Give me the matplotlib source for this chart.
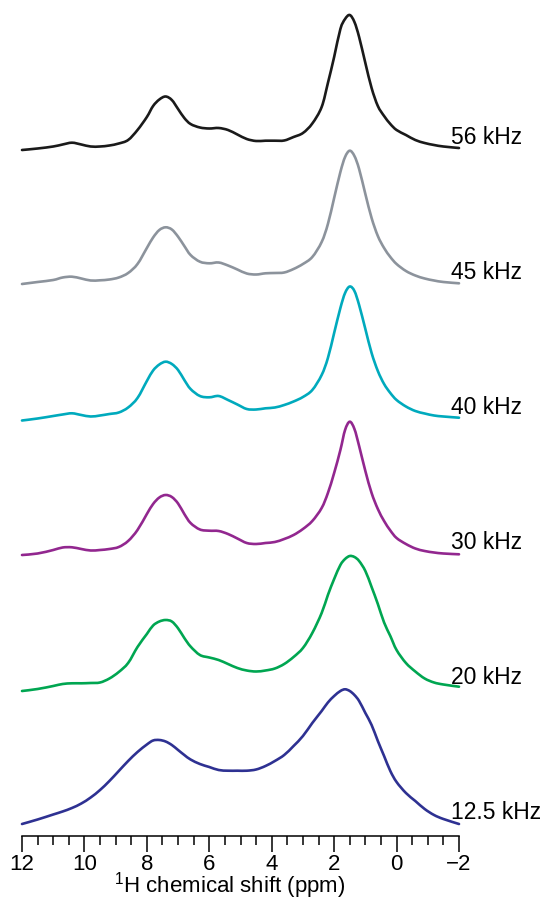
import numpy as np
import matplotlib
matplotlib.use('Agg')
import matplotlib.pyplot as plt
from matplotlib.path import Path
from matplotlib.patches import PathPatch
from matplotlib.ticker import MultipleLocator

plt.rcParams['font.family'] = ['Liberation Sans', 'DejaVu Sans']
plt.rcParams['mathtext.default'] = 'regular'

# chemical shift grid (ppm) shared by all traces
ppm = [12.0, 11.5, 11.0, 10.7, 10.4, 10.1, 9.8, 9.5, 9.2, 8.9, 8.6, 8.3,
       8.0, 7.8, 7.6, 7.4, 7.2, 7.0, 6.8, 6.6, 6.3, 6.0, 5.7, 5.4, 5.1,
       4.8, 4.5, 4.2, 3.9, 3.6, 3.3, 3.0, 2.7, 2.4, 2.2, 2.0, 1.8, 1.65,
       1.5, 1.35, 1.2, 1.0, 0.8, 0.6, 0.4, 0.2, 0.0, -0.3, -0.6, -0.9,
       -1.2, -1.5, -2.0]

# intensities (arb. units) for each MAS rate
h_12_5 = [2, 6.5, 11.5, 14.5, 18, 22.5, 28.5, 36, 45, 55, 65, 74,
          81.5, 85.5, 86, 84.5, 81, 76, 71, 66.5, 62, 59, 56, 55.3, 55.3,
          55.3, 56.5, 60, 65, 71, 80, 90, 103, 115, 123.5, 130, 135, 136.7,
          135, 131, 125, 113, 101, 85, 70, 55, 44, 33, 25, 17,
          11, 7, 2]
h_20 = [0, 2, 5, 7, 7.7, 7.7, 8, 8.5, 12.5, 19, 28, 44,
        57, 65.5, 69.5, 71, 69.5, 62.7, 53, 44.5, 36, 33.5, 31, 27, 23,
        20.5, 19.5, 20.5, 22.5, 27, 34, 43, 58, 78, 96, 112, 126, 132,
        135, 134, 130, 120, 104, 87, 68.5, 55, 41, 28, 19.5, 12.5,
        8.5, 6.5, 4.3]
h_30 = [1, 2.5, 6, 8.5, 8.7, 7, 5.5, 6, 7, 9, 15, 26,
        42, 52, 58.5, 61, 59, 52.5, 42, 33, 26.5, 25.3, 25, 22, 17.5,
        13, 12, 13, 14, 17, 21, 27, 35, 48, 63, 83, 106, 126,
        134.3, 127, 110, 85, 63, 47, 35, 25.5, 18, 12, 7.5, 5,
        3.5, 2.5, 1.7]
h_40 = [0.5, 2.5, 5, 6.5, 7.7, 6, 4.5, 5.5, 7, 8.5, 13.5, 23,
        40, 50.5, 56.5, 59.3, 57, 51, 41, 32, 25, 23.7, 25, 21, 16.5,
        12, 11.5, 12.7, 13.5, 16, 19.5, 24, 31, 46, 63, 88, 113, 128,
        134.5, 130, 116, 92, 68, 50, 37, 28, 21, 14.5, 10, 7.5,
        5.5, 4.5, 3.3]
h_45 = [2, 4, 6, 8.5, 9.3, 7.5, 5.5, 5.7, 6.5, 8.5, 13, 22,
        38, 48.5, 56, 58.7, 56.5, 49.3, 40, 31, 24.3, 22.7, 23.5, 20.5, 16.5,
        12.5, 11.5, 12.7, 13, 13.5, 17, 22, 29, 44, 62, 88, 114, 129,
        135.3, 130, 117, 92, 68, 50, 38, 29, 22, 15, 10.5, 7.5,
        5.5, 4, 2.7]
h_56 = [1, 2.5, 4.5, 6.5, 8.3, 6.5, 4.5, 4.5, 5.5, 7.5, 11, 21,
        34, 45, 51.5, 54.5, 51, 42, 33, 27, 23.5, 22.5, 23, 21, 16.5,
        12, 10, 10.3, 10.3, 10.5, 14, 18, 27.5, 44, 68, 94, 122, 132,
        136, 129, 114, 88, 63, 45, 35, 27, 21, 16, 11, 8,
        6, 4.5, 3]

spectra = [h_12_5, h_20, h_30, h_40, h_45, h_56]
labels = ['12.5 kHz', '20 kHz', '30 kHz', '40 kHz', '45 kHz', '56 kHz']
colors = ['#2e3192', '#00a651', '#92278f', '#00aabd', '#8c939c', '#1a1a1a']
spacing = 135


def smooth_path(x, y):
    # Catmull-Rom through the points, written as cubic Bezier segments
    x = np.asarray(x, float)
    y = np.asarray(y, float)
    px = np.concatenate([[x[0]], x, [x[-1]]])
    py = np.concatenate([[y[0]], y, [y[-1]]])
    verts = [(x[0], y[0])]
    codes = [Path.MOVETO]
    for k in range(1, len(px) - 2):
        c1 = (px[k] + (px[k + 1] - px[k - 1]) / 6, py[k] + (py[k + 1] - py[k - 1]) / 6)
        c2 = (px[k + 1] - (px[k + 2] - px[k]) / 6, py[k + 1] - (py[k + 2] - py[k]) / 6)
        verts += [c1, c2, (px[k + 1], py[k + 1])]
        codes += [Path.CURVE4] * 3
    return Path(verts, codes)


W, H = 547, 902
fig = plt.figure(figsize=(W / 100, H / 100), dpi=100)
ax = fig.add_axes([22 / W, (H - 836) / H, 437 / W, 836 / H])

for i, (h, lab, col) in enumerate(zip(spectra, labels, colors)):
    off = i * spacing
    ax.add_patch(PathPatch(smooth_path(ppm, np.array(h) + off), fill=False,
                           edgecolor=col, lw=1.9, joinstyle='round',
                           capstyle='round', clip_on=False))
    ax.text(-1.75, off + 7, lab, ha='left', va='baseline', fontsize=16.5)

ax.set_xlim(12, -2)
ax.set_ylim(-10, 826)
ax.xaxis.set_major_locator(MultipleLocator(2))
ax.xaxis.set_minor_locator(MultipleLocator(0.5))
ax.tick_params(axis='x', which='major', direction='out', length=11.3,
               width=1.1, labelsize=16, pad=1.5)
ax.tick_params(axis='x', which='minor', direction='out', length=6.5, width=1.1)
ax.set_yticks([])
for side in ['top', 'left', 'right']:
    ax.spines[side].set_visible(False)
ax.spines['bottom'].set_linewidth(1.1)
ax.patch.set_alpha(0)

fig.text(229.5 / W, 1.0 / H, '$^1$H chemical shift (ppm)',
         ha='center', va='bottom', fontsize=16)

fig.savefig('out.png', dpi=100)
